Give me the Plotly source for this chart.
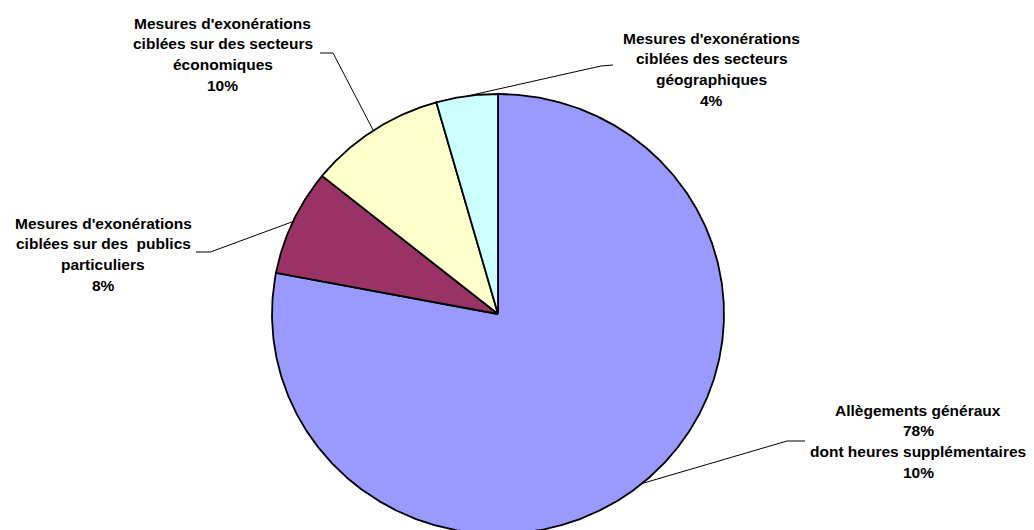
import numpy as np
import plotly.graph_objects as go

# ---- data ----
categories = [
    "Allègements généraux",
    "Mesures d'exonérations ciblées sur des  publics particuliers",
    "Mesures d'exonérations ciblées sur des secteurs économiques",
    "Mesures d'exonérations ciblées des secteurs géographiques",
]
values = [78.0, 7.8, 9.8, 4.4]
overtime_share = 10  # "dont heures supplémentaires"
label_head = [
    ["Allègements généraux"],
    ["Mesures d'exonérations", "ciblées sur des  publics", "particuliers"],
    ["Mesures d'exonérations", "ciblées sur des secteurs", "économiques"],
    ["Mesures d'exonérations", "ciblées des secteurs", "géographiques"],
]
colors = ["#9999FF", "#993366", "#FFFFCC", "#CCFFFF"]

# ---- layout parameters (pixels) ----
W, H = 1034, 530
CX, CY, RX, RY = 498, 314, 226, 220
FONT = dict(family="Liberation Sans, Arial, sans-serif", size=15.5, color="black")
LINE_H = 20.8
# label block centre x, first-line y ; leader elbow and end
label_pos = [(918, 410), (103, 223), (222.5, 23), (711.5, 38)]
leader_elbow = [(787, 441), (210.5, 252), (333, 53), (601, 66)]
leader_end = [(805, 441), (196, 252), (320, 53), (613, 65)]

vals = np.array(values, dtype=float)
frac = vals / vals.sum()
cum = np.concatenate([[0], np.cumsum(frac)])


def pt(f):
    th = 2 * np.pi * f
    return CX + RX * np.sin(th), CY - RY * np.cos(th)


fig = go.Figure()
for i, c in enumerate(categories):
    fs = np.linspace(cum[i], cum[i + 1], max(int(frac[i] * 720), 8))
    xs, ys = zip(*[pt(f) for f in fs])
    xs = [CX] + list(xs) + [CX]
    ys = [CY] + list(ys) + [CY]
    fig.add_trace(go.Scatter(x=xs, y=ys, fill="toself", fillcolor=colors[i],
                             mode="lines", line=dict(color="black", width=1.8),
                             name=c, hoverinfo="name"))

annotations = []
for i, c in enumerate(categories):
    pct = "%d%%" % round(frac[i] * 100)
    lines = list(label_head[i]) + [pct]
    if i == 0:
        lines += ["dont heures supplémentaires", "%d%%" % overtime_share]
    lx, ly = label_pos[i]
    for k, t in enumerate(lines):
        annotations.append(dict(x=lx, y=ly + k * LINE_H, xref="x", yref="y",
                                text="<b>%s</b>" % t, showarrow=False,
                                xanchor="center", yanchor="middle", font=FONT))
    sx, sy = pt((cum[i] + cum[i + 1]) / 2)
    ex, ey = leader_elbow[i]
    tx, ty = leader_end[i]
    fig.add_trace(go.Scatter(x=[sx, ex, tx], y=[sy, ey, ty], mode="lines",
                             line=dict(color="black", width=1), hoverinfo="skip"))

fig.update_layout(
    width=W, height=H, margin=dict(l=0, r=0, t=0, b=0),
    paper_bgcolor="white", plot_bgcolor="white", showlegend=False,
    xaxis=dict(range=[0, W], visible=False, fixedrange=True),
    yaxis=dict(range=[H, 0], visible=False, fixedrange=True),
    annotations=annotations,
)
fig.write_html("out.html")
